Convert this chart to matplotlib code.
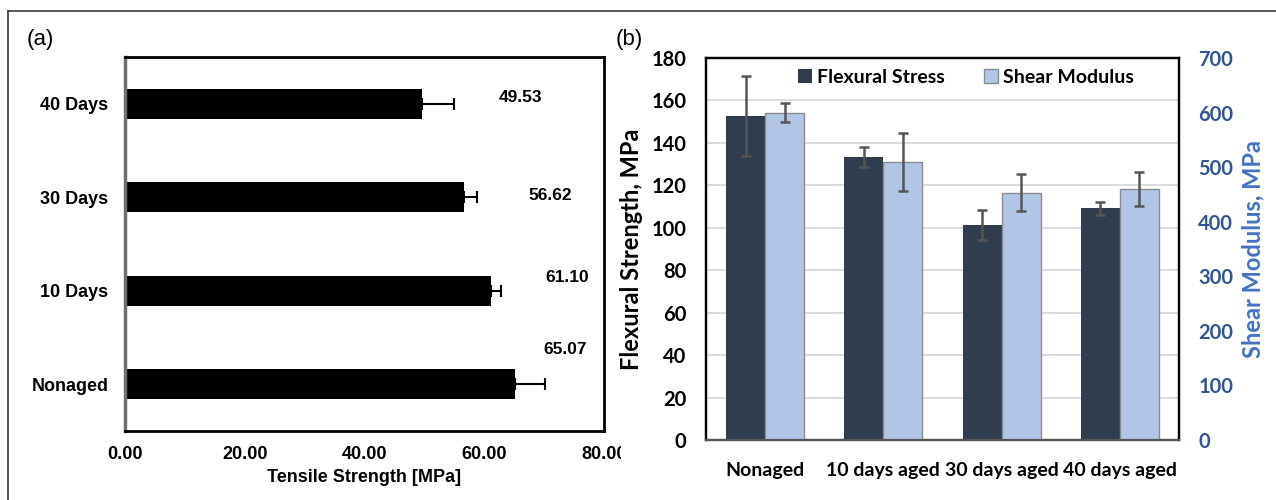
import matplotlib
matplotlib.use("Agg")
import matplotlib.pyplot as plt
from matplotlib.patches import Rectangle
from matplotlib.lines import Line2D
import numpy as np

# ---------------- data ----------------
# panel (a)
tensile_cats = ["Nonaged", "10 Days", "30 Days", "40 Days"]
tensile_vals = [65.07, 61.10, 56.62, 49.53]
tensile_err = [5.0, 1.7, 2.1, 5.5]
tensile_labels = ["65.07", "61.10", "56.62", "49.53"]
tensile_xticks = [0, 20, 40, 60, 80]

# panel (b)
flex_cats = ["Nonaged", "10 days aged", "30 days aged", "40 days aged"]
flex_vals = [152.5, 133.2, 101.4, 109.2]
flex_err = [18.8, 4.7, 7.1, 3.0]
shear_vals = [600, 510, 453, 460]
shear_err = [17.5, 53, 34, 32]

# label positions for the value annotations in panel (a) (layout only)
label_pos = [(73.5, 0.37), (73.8, 1.14), (71.1, 2.02), (66.0, 3.07)]

W, H = 1276, 500
fig = plt.figure(figsize=(W / 100, H / 100), dpi=100)

def fx(px):
    return px / W

def fy(py):
    return 1 - py / H

narrow = ["Liberation Sans Narrow", "Liberation Sans", "DejaVu Sans"]
calib = ["Lato", "DejaVu Sans"]

# ---------------- panel (a) ----------------
axa = fig.add_axes([fx(125), fy(431), fx(604) - fx(125), fy(57) - fy(431)])
ypos = np.arange(len(tensile_cats))
axa.barh(ypos, tensile_vals, height=0.32, color="black", zorder=2)
axa.errorbar(tensile_vals, ypos, xerr=[np.zeros(len(tensile_err)), tensile_err],
             fmt="none", ecolor="black", elinewidth=1.5, capsize=4, capthick=1.5, zorder=3)
axa.set_xlim(0, 80)
axa.set_ylim(-0.5, 3.5)
axa.set_yticks(ypos)
axa.set_yticklabels(tensile_cats, fontsize=13, fontweight="bold", family=narrow)
axa.set_xticks(tensile_xticks)
axa.set_xticklabels([f"{v:.2f}" for v in tensile_xticks], fontsize=13,
                    fontweight="bold", family=narrow)
axa.tick_params(axis="both", length=0)
axa.tick_params(axis="y", pad=12)
axa.tick_params(axis="x", pad=11)
axa.set_xlabel("Tensile Strength [MPa]", fontsize=13, fontweight="bold",
               family=narrow, labelpad=4)
for s in ["top", "right", "bottom"]:
    axa.spines[s].set_color("black")
    axa.spines[s].set_linewidth(2)
axa.spines["left"].set_color("#6e6e6e")
axa.spines["left"].set_linewidth(2.5)
for txt, (x, y) in zip(tensile_labels, label_pos):
    axa.text(x, y, txt, ha="center", va="center", fontsize=12.5,
             fontweight="bold", family=narrow)

# ---------------- panel (b) ----------------
axb = fig.add_axes([fx(706), fy(440), fx(1179) - fx(706), fy(58) - fy(440)])
axb2 = axb.twinx()
x = np.arange(len(flex_cats))
bw = 0.33
dark = "#2f3d4f"
light = "#b1c6e6"
axb.bar(x - bw / 2, flex_vals, width=bw, color=dark, zorder=2)
axb.errorbar(x - bw / 2, flex_vals, yerr=flex_err, fmt="none", ecolor="#555555",
             elinewidth=1.8, capsize=3.5, capthick=1.8, zorder=3)
axb2.bar(x + bw / 2, shear_vals, width=bw, color=light, edgecolor="#8c8c8c",
         linewidth=1, zorder=2)
axb2.errorbar(x + bw / 2, shear_vals, yerr=shear_err, fmt="none", ecolor="#555555",
              elinewidth=1.8, capsize=3.5, capthick=1.8, zorder=3)
axb.set_xlim(-0.5, 3.5)
axb.set_ylim(0, 180)
axb2.set_ylim(0, 700)
axb.set_yticks(np.arange(0, 181, 20))
axb2.set_yticks(np.arange(0, 701, 100))
axb.yaxis.grid(True, color="#d9d9d9", linewidth=1.3, zorder=0)
axb.set_axisbelow(True)
axb.set_xticks(x)
axb.set_xticklabels(flex_cats, fontsize=14, fontweight="bold", family=calib)
for lbl in axb.get_yticklabels():
    lbl.set_fontsize(14.5)
    lbl.set_fontweight("bold")
    lbl.set_family(calib)
for lbl in axb2.get_yticklabels():
    lbl.set_fontsize(14.5)
    lbl.set_fontweight("bold")
    lbl.set_family(calib)
    lbl.set_color("#2f5597")
axb.tick_params(axis="both", length=0)
axb.tick_params(axis="y", pad=14)
axb.tick_params(axis="x", pad=16)
axb2.tick_params(axis="y", length=0, pad=14)
axb.set_ylabel("Flexural Strength, MPa", fontsize=17, fontweight="bold",
               family=calib, labelpad=6)
axb2.set_ylabel("Shear Modulus, MPa", fontsize=17, fontweight="bold",
                family=calib, color="#4472c4", labelpad=6)
for ax_ in (axb, axb2):
    for s in ["top", "left", "right"]:
        ax_.spines[s].set_color("black")
        ax_.spines[s].set_linewidth(1.6)
    ax_.spines["bottom"].set_color("#555555")
    ax_.spines["bottom"].set_linewidth(1.6)

handles = [Rectangle((0, 0), 1, 1, facecolor=dark),
           Rectangle((0, 0), 1, 1, facecolor=light, edgecolor="#8c8c8c")]
axb2.legend(handles, ["Flexural Stress", "Shear Modulus"], loc="center",
            bbox_to_anchor=(0.55, 0.95), ncol=2, frameon=False,
            prop={"family": calib, "weight": "bold", "size": 14},
            handlelength=0.7, handleheight=0.7, handletextpad=0.3,
            columnspacing=2.0)

# ---------------- decorations ----------------
fig.text(fx(27), fy(40), "(a)", fontsize=16, family=["Liberation Sans", "DejaVu Sans"],
         ha="left", va="center")
fig.text(fx(616), fy(40), "(b)", fontsize=16, family=["Liberation Sans", "DejaVu Sans"],
         ha="left", va="center")

# clip the last tick label of panel (a) like the original
fig.patches.append(Rectangle((fx(621), fy(468)), fx(655) - fx(621), fy(440) - fy(468),
                             transform=fig.transFigure, facecolor="white",
                             edgecolor="none", zorder=20))

# outer frame (cropped at right and bottom)
fig.add_artist(Line2D([fx(8), 1.0], [fy(11), fy(11)], transform=fig.transFigure,
                      color="#3a3a3a", linewidth=1.2))
fig.add_artist(Line2D([fx(8), fx(8)], [fy(11), 0.0], transform=fig.transFigure,
                      color="#3a3a3a", linewidth=1.2))

fig.savefig("out.png", dpi=100)
